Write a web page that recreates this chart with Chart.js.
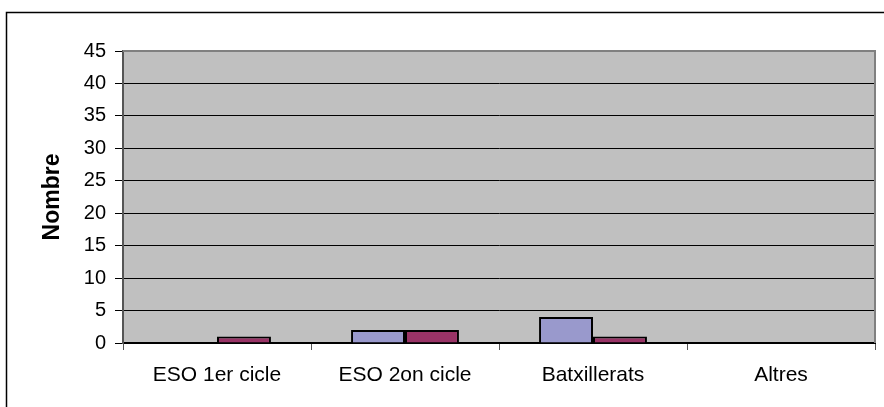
<!DOCTYPE html>
<html>
<head>
<meta charset="utf-8">
<script src="https://cdn.jsdelivr.net/npm/chart.js@4"></script>
<style>
  html, body { margin: 0; padding: 0; background: #fff; }
  canvas { display: block; }
</style>
</head>
<body>
<canvas id="c" width="884" height="407"></canvas>
<script>
const categories = ["ESO 1er cicle", "ESO 2on cicle", "Batxillerats", "Altres"];
const series1 = [0, 2, 4, 0];
const series2 = [1, 2, 1, 0];
const yTicks = [0, 5, 10, 15, 20, 25, 30, 35, 40, 45];
const yTitle = "Nombre";

const framePlugin = {
  id: 'frame',
  beforeDraw(chart) {
    const ctx = chart.ctx;
    const a = chart.chartArea;
    ctx.save();
    ctx.fillStyle = '#ffffff';
    ctx.fillRect(0, 0, chart.width, chart.height);
    ctx.strokeStyle = '#000000';
    ctx.lineWidth = 1.5;
    ctx.strokeRect(6.5, 12.5, 1000, 1000);
    ctx.fillStyle = '#C0C0C0';
    ctx.fillRect(a.left, a.top, a.right - a.left, a.bottom - a.top);
    ctx.restore();
  },
  beforeDatasetsDraw(chart) {
    const ctx = chart.ctx;
    const a = chart.chartArea;
    ctx.save();
    ctx.strokeStyle = '#808080';
    ctx.lineWidth = 2;
    ctx.beginPath();
    ctx.moveTo(a.left, a.top);
    ctx.lineTo(a.right, a.top);
    ctx.lineTo(a.right, a.bottom);
    ctx.stroke();
    ctx.restore();
  }
};

new Chart(document.getElementById('c'), {
  type: 'bar',
  data: {
    labels: categories,
    datasets: [
      { data: series1, backgroundColor: '#9999CC', borderColor: '#000000', borderWidth: 2, borderSkipped: 'bottom' },
      { data: series2, backgroundColor: '#993366', borderColor: '#000000', borderWidth: 2, borderSkipped: 'bottom' }
    ]
  },
  options: {
    responsive: false,
    animation: false,
    devicePixelRatio: 1,
    layout: { padding: { left: 0, right: 9, top: 51, bottom: 0 } },
    plugins: { legend: { display: false }, tooltip: { enabled: false } },
    datasets: { bar: { categoryPercentage: 0.574, barPercentage: 1.0 } },
    scales: {
      x: {
        grid: { display: true, drawOnChartArea: false, drawTicks: true, tickLength: 7, tickColor: '#555555', offset: true },
        border: { display: true, color: '#000000', width: 2 },
        ticks: { color: '#000000', font: { family: 'Liberation Sans, Arial, sans-serif', size: 21 }, padding: 13, maxRotation: 0 },
        afterFit(scale) { scale.height = 64; }
      },
      y: {
        min: 0, max: 45,
        afterBuildTicks(scale) { scale.ticks = yTicks.map(v => ({ value: v })); },
        grid: { color: '#000000', lineWidth: 1, drawTicks: true, tickLength: 8, tickColor: '#000000' },
        border: { display: true, color: '#555555', width: 2 },
        ticks: { color: '#000000', font: { family: 'Liberation Sans, Arial, sans-serif', size: 20 }, padding: 9 },
        title: { display: true, text: yTitle, color: '#000000', font: { family: 'Liberation Sans, Arial, sans-serif', size: 23, weight: 'bold' }, padding: { top: 39, bottom: 0 } },
        afterFit(scale) { scale.width = 123; }
      }
    }
  },
  plugins: [framePlugin]
});
</script>
</body>
</html>
